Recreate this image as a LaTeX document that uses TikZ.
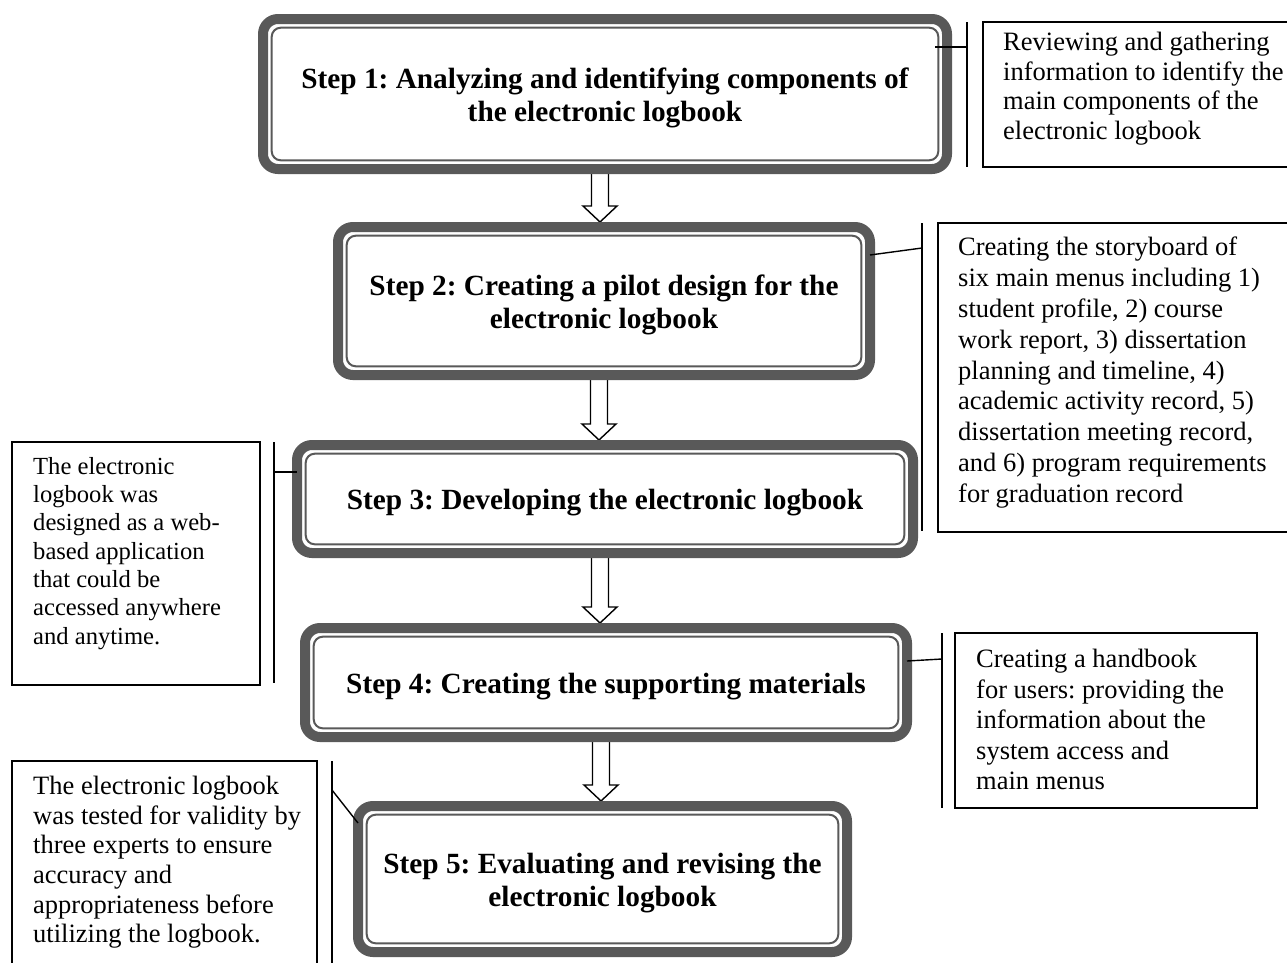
\documentclass[tikz,border=0pt]{standalone}
\usepackage{fontspec}
\setmainfont{Liberation Serif}
\usetikzlibrary{calc,backgrounds}
\definecolor{bandgray}{RGB}{89,89,89}
\tikzset{
  stepnode/.style={draw=bandgray, line width=10pt, rounded corners=15pt, outer sep=0pt, inner sep=0pt, align=center, font=\fontsize{29.3}{33.5}\selectfont\bfseries},
  innerline/.style={draw=bandgray, line width=2pt, rounded corners=9pt},
  annobox/.style={draw=black, line width=1.6pt},
  bracket/.style={draw=black, line width=1.4pt},
  annotext/.style={anchor=north west, inner sep=0pt, align=left},
  barrow/.style={draw=black, fill=white, line width=1.4pt, line join=miter},
}
\newcommand\lowr{\rule{0pt}{28pt}}
\newcommand\mystep[5]{%
  \node[stepnode, minimum width=#3pt, minimum height=#4pt] (#1) at #2 {\lowr#5};
  \draw[innerline] ([shift={(8.7,8.7)}]#1.north west) rectangle ([shift={(-8.7,-8.7)}]#1.south east);
}
\newcommand\blockarr[2]{%
  \draw[barrow] let \p1=(#1.south), \p2=(#2.north) in
    (\x1-13.5pt,\y1) -- (\x1-13.5pt,\y2+21pt) -- (\x1-22pt,\y2+21pt) -- (\x1-5pt,\y2+5pt)
    -- (\x1+12pt,\y2+21pt) -- (\x1+3.5pt,\y2+21pt) -- (\x1+3.5pt,\y1) -- cycle;
}
\begin{document}
\frenchspacing
\begin{tikzpicture}[x=1pt, y=-1pt]
\useasboundingbox (0,0) rectangle (1287,962);
\clip (0,0) rectangle (1287,962);

% step boxes
\mystep{s1}{(605,94)}{684}{150}{Step 1: Analyzing and identifying components of\\the electronic logbook}
\mystep{s2}{(604,301)}{532}{148}{Step 2: Creating a pilot design for the\\electronic logbook}
\mystep{s3}{(605,499)}{616}{108}{Step 3: Developing the electronic logbook}
\mystep{s4}{(606,682.5)}{602}{109}{Step 4: Creating the supporting materials}
\mystep{s5}{(602.5,879)}{489}{146}{Step 5: Evaluating and revising the\\electronic logbook}

% block arrows (behind the boxes)
\begin{pgfonlayer}{background}
\fill[white] (0,0) rectangle (1287,962);
\blockarr{s1}{s2}
\blockarr{s2}{s3}
\blockarr{s3}{s4}
\blockarr{s4}{s5}
\end{pgfonlayer}

% annotation 1
\coordinate (b1t) at (967,22); \coordinate (b1b) at (967,167); \coordinate (b1) at (967,47);
\draw[annobox] (1295,22) -- (983,22) -- (983,167) -- (1295,167);
\draw[bracket] (b1t) -- (b1b);
\draw[bracket] ($(s1.east |- b1)+(-12,0)$) -- (b1);
\node[annotext, font=\fontsize{26.5}{29.7}\selectfont] (a1) at (1003,32) {Reviewing and gathering\\information to identify the\\main components of the\\electronic logbook};

% annotation 2
\coordinate (b2t) at (922,223); \coordinate (b2b) at (922,531); \coordinate (b2) at (922,248);
\draw[annobox] (1295,223) -- (938,223) -- (938,532) -- (1295,532);
\draw[bracket] (b2t) -- (b2b);
\draw[bracket] ($(s2.north east)+(0,28)$) -- (b2);
\node[annotext, font=\fontsize{26.5}{30.8}\selectfont] (a2) at (958,237) {Creating the storyboard of\\six main menus including 1)\\student profile, 2) course\\work report, 3) dissertation\\planning and timeline, 4)\\academic activity record, 5)\\dissertation meeting record,\\and 6) program requirements\\for graduation record};

% annotation 3
\coordinate (b3t) at (274,442); \coordinate (b3b) at (274,683); \coordinate (b3) at (274,472);
\draw[annobox] (12,442) rectangle (260,685);
\draw[bracket] (b3t) -- (b3b);
\draw[bracket] (b3) -- (s3.west |- b3);
\node[annotext, font=\fontsize{24.6}{28.3}\selectfont] (a3) at (33,457) {The electronic\\logbook was\\designed as a web-\\based application\\that could be\\accessed anywhere\\and anytime.};

% annotation 4
\coordinate (b4t) at (942,633); \coordinate (b4b) at (942,808); \coordinate (b4) at (942,659);
\draw[annobox] (955,633) rectangle (1257,808);
\draw[bracket] (b4t) -- (b4b);
\draw[bracket] ($(s4.north east)+(0,33)$) -- (b4);
\node[annotext, font=\fontsize{26.5}{30.5}\selectfont] (a4) at (976,649) {Creating a handbook\\for users: providing the\\information about the\\system access and\\main menus};

% annotation 5
\coordinate (b5t) at (332,761); \coordinate (b5b) at (332,975); \coordinate (b5) at (332,790);
\draw[annobox] (12,975) -- (12,761) -- (317,761) -- (317,975);
\draw[bracket] (b5t) -- (b5b);
\draw[bracket] (b5) -- ($(s5.north west)+(0,17)$);
\node[annotext, font=\fontsize{26.5}{29.6}\selectfont] (a5) at (33,776) {The electronic logbook\\was tested for validity by\\three experts to ensure\\accuracy and\\appropriateness before\\utilizing the logbook.};
\end{tikzpicture}
\end{document}
